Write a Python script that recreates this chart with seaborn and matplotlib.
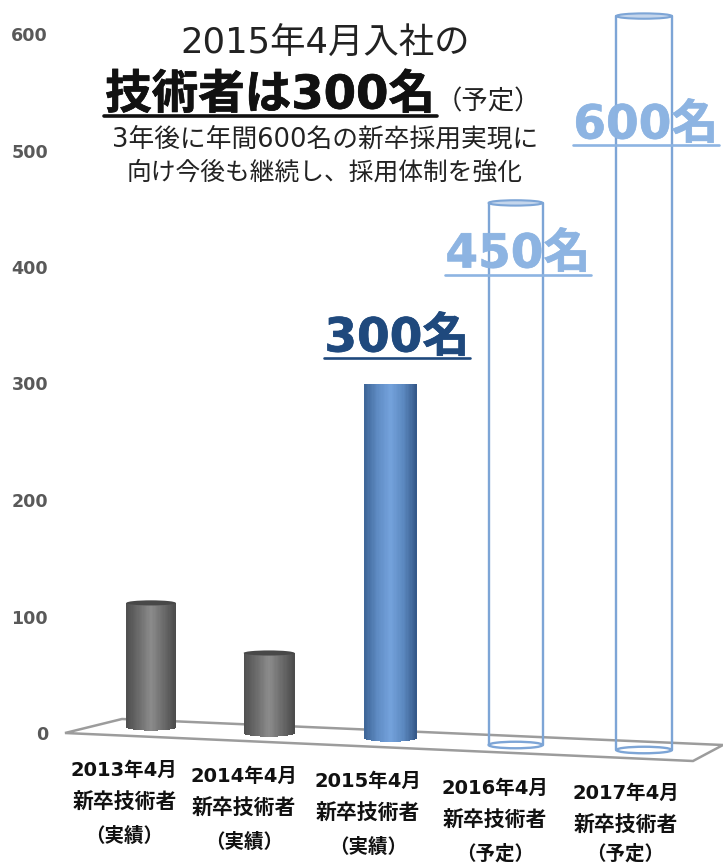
import numpy as np
import pandas as pd
import matplotlib
matplotlib.use('Agg')
import matplotlib.pyplot as plt
import seaborn as sns
from matplotlib.colors import LinearSegmentedColormap
from matplotlib.lines import Line2D
from matplotlib.patches import Ellipse, Polygon
import matplotlib.patheffects as pe

years = ["2013年4月", "2014年4月", "2015年4月", "2016年4月", "2017年4月"]
status = ["（実績）", "（実績）", "（実績）", "（予定）", "（予定）"]
values = [110, 68, 300, 450, 600]
y_ticks = [0, 100, 200, 300, 400, 500, 600]

W, H = 723, 865
JP = ['DejaVu Sans', 'Noto Sans CJK JP']

# the slide is a 3D chart: bars further right sit lower on the floor and look bigger
depth = [0.968, 1.01, 1.013, 1.034, 1.05]
floor = [5.2, 0.0, -4.3, -10.3, -14.6]
status_drop = [93.6, 93.6, 93.6, 93.6, 89.5]  # last one pulled up so it stays on the canvas


def to_px(i):
    i = np.asarray(i, dtype=float)
    return 151 + 118 * i + 1.75 * i * (i - 1)


def from_px(p):
    p = np.asarray(p, dtype=float)
    a, b, c = 1.75, 116.25, 151 - p
    return (-b + np.sqrt(b * b - 4 * a * c)) / (2 * a)


def px_text(x, y, s, **kw):
    return fig.text(x / W, 1 - y / H, s, ha=kw.pop('ha', 'center'), va='center', **kw)


def px_rule(x0, x1, y, color, lw):
    fig.add_artist(Line2D([x0 / W, x1 / W], [1 - y / H, 1 - y / H], color=color, lw=lw,
                          transform=fig.transFigure))


sns.set_theme(style='white')
plt.rcParams['font.family'] = JP

fig = plt.figure(figsize=(W / 100, H / 100), dpi=100)
ax = fig.add_axes([0, 0, 1, 1])
ax.patch.set_visible(False)

df = pd.DataFrame({'year': years, 'pos': range(len(years)), 'n': values})
sns.barplot(data=df, x='pos', y='n', hue='year', hue_order=years, native_scale=True,
            palette=['#6e6e6e', '#6e6e6e', '#5b87bd', '#ffffff', '#ffffff'],
            width=0.425, dodge=False, legend=False, saturation=1, ax=ax)

gray_cm = LinearSegmentedColormap.from_list('g', ['#505050', '#6c6c6c', '#8c8c8c', '#6c6c6c', '#4c4c4c'])
blue_cm = LinearSegmentedColormap.from_list('b', ['#3f6799', '#5f8cc4', '#74a2dc', '#5c89c0', '#35598a'])
cmaps = [gray_cm, gray_cm, blue_cm, None, None]
line_blue = '#7da5d6'

bars = sorted([p for p in ax.patches if p.get_height() > 0], key=lambda p: p.get_x())
u = np.linspace(-1, 1, 41)
for bar, base, d, cm in zip(bars, floor, depth, cmaps):
    bar.set_y(base)
    bar.set_height(bar.get_height() * d)
    bar.set_edgecolor('none')
    left, w = bar.get_x(), bar.get_width()
    top = bar.get_y() + bar.get_height()
    mid = left + w / 2
    bar.set_facecolor('none')
    if cm is not None:
        # shaded cylinder body with a rounded bottom
        X = np.vstack([mid + u * w / 2] * 2)
        Y = np.vstack([base - 3.2 * np.sqrt(1 - u ** 2), np.full_like(u, top)])
        ax.pcolormesh(X, Y, np.linspace(0, 1, 40).reshape(1, -1), cmap=cm, shading='flat',
                      antialiased=False, zorder=3)
        if cm is gray_cm:
            ax.add_patch(Ellipse((mid, top), w, 4.4, fc='#484848', ec='none', zorder=4))
    else:
        for xx in [left, left + w]:
            ax.plot([xx, xx], [base, top], color=line_blue, lw=1.7, zorder=3)
        ax.add_patch(Ellipse((mid, top), w, 4.6, fc='#c5d6ec', ec=line_blue, lw=1.5, zorder=3))
        ax.add_patch(Ellipse((mid, base), w, 5.6, fc='none', ec=line_blue, lw=1.7, zorder=3))

# category labels follow the floor
for i, (yr, st, base, drop) in enumerate(zip(years, status, floor, status_drop)):
    lab_x = i - 0.23 + 0.022 * i
    ax.text(lab_x, base - 36.9, yr, ha='center', va='center', fontsize=14,
            fontweight='bold', color='#111111', clip_on=False)
    ax.text(lab_x, base - 65.2, "新卒技術者", ha='center', va='center', fontsize=15,
            fontweight='bold', color='#111111', clip_on=False)
    ax.text(lab_x, base - drop, st, ha='center', va='center', fontsize=14,
            fontweight='bold', color='#111111', clip_on=False)

ax.set_xscale('function', functions=(to_px, from_px))
ax.set_xlim(float(from_px(0)), float(from_px(W)))
ax.set_ylim((733 - H) / 1.165, 733 / 1.165)
ax.set_xticks([])
ax.set_yticks(y_ticks)
ax.set_xlabel('')
ax.set_ylabel('')
ax.tick_params(axis='y', length=0, pad=-34.6, labelsize=12.6, labelcolor='#595959')
for lab in ax.get_yticklabels():
    lab.set_fontweight('bold')
    lab.set_family('DejaVu Sans')
sns.despine(ax=ax, left=True, bottom=True)

# tilted floor of the 3D chart
fl = [(65, 733), (122, 719), (723, 745), (693, 761)]
fig.add_artist(Polygon([(x / W, 1 - y / H) for x, y in fl], closed=True, fc='none', ec='#9c9c9c',
                       lw=1.8, transform=fig.transFigure, zorder=-1))

# headline block
heavy = [pe.withStroke(linewidth=0.5, foreground='#111111')]
px_text(325, 44, "2015年4月入社の", fontsize=25.5, color='#222222')
px_text(270, 96, "技術者は300名", fontsize=33.5, fontweight='bold', color='#111111', path_effects=heavy)
px_rule(104, 437, 116, '#111111', 2.6)
px_text(488, 102, "（予定）", fontsize=19, color='#222222')
px_text(325, 140, "3年後に年間600名の新卒採用実現に", fontsize=18.5, color='#222222')
px_text(325, 173, "向け今後も継続し、採用体制を強化", fontsize=17.8, color='#222222')

# big numbers for this year and the plan
for n, cx, cy, rule_y, col, a in [(values[2], 397, 339, 358, '#1f497d', 1),
                                  (values[3], 518, 255, 275, '#8db4e2', 0.92),
                                  (values[4], 646, 126, 145, '#8db4e2', 0.92)]:
    px_text(cx, cy, f"{n}名", fontsize=33.8, fontweight='bold', color=col, alpha=a,
            path_effects=[pe.withStroke(linewidth=0.5, foreground=col, alpha=a)])
    px_rule(cx - 73, cx + 73, rule_y, col, 1.9)

plt.savefig('out.png', dpi=100)
plt.close()
